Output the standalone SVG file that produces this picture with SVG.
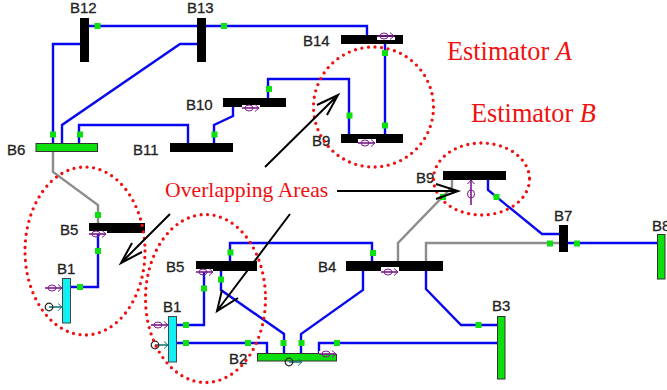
<svg xmlns="http://www.w3.org/2000/svg" width="667" height="390" viewBox="0 0 667 390">
<style>
.bl{fill:none;stroke:#0808f0;stroke-width:2.4}
.gr{fill:none;stroke:#8c8c8c;stroke-width:2.4}
.bar{fill:#000}
.gbar{fill:#0de00d;stroke:#333;stroke-width:1}
.cbar{fill:#0ff0f5;stroke:#444;stroke-width:1}
.lb{font:15px "Liberation Sans",Arial,sans-serif;fill:#222;stroke:#222;stroke-width:.3}
.est{font:26.300px "Liberation Serif","Times New Roman",serif;fill:#f01010}
.ov{font:21.700px "Liberation Serif","Times New Roman",serif;fill:#f01010}
.dot{fill:none;stroke:#f01010;stroke-width:3.300;stroke-linecap:round;stroke-dasharray:0 6.6}
.ar{fill:none;stroke:#000;stroke-width:2}
.j{fill:#0de00d}
.pp{fill:none;stroke:#7a1a8a;stroke-width:1}
.pl{fill:none;stroke:#7a1a8a;stroke-width:1.6}
.tt{fill:none;stroke:#1a7a7a;stroke-width:1}
.tl{fill:none;stroke:#1a7a7a;stroke-width:1.6}
.pad{fill:#fff}
</style>
<defs>
<g id="p"><path class="pl" d="M0 0H17"/><path class="pp" d="M13 -3.500L17 0L13 3.500"/><ellipse class="pp" cx="7" cy="0" rx="4" ry="3"/></g>
<g id="t"><path class="tl" d="M4 0H17"/><path class="tt" d="M13 -3.500L17 0L13 3.500"/><circle cx="4" cy="0" r="3.800" fill="none" stroke="#222" stroke-width="1.200"/></g>
<rect id="m" x="-3" y="-3" width="6" height="6" class="j"/>
</defs>
<g id="connectors">
<path class="bl" d="M89 26H197M206 26H367V36"/>
<path class="bl" d="M80 44H53V143"/>
<path class="bl" d="M197 44H180L62 125V143"/>
<path class="bl" d="M79 143V125H188V143"/>
<path class="bl" d="M214 143V125L233 116V107"/>
<path class="bl" d="M268 98V79H349V134"/>
<path class="bl" d="M385 44V134"/>
<path class="gr" d="M53 151V172L98 205V224"/>
<path class="bl" d="M98 233V287H71"/>
<path class="bl" d="M204 271V325H177"/>
<path class="bl" d="M177 343H267V353"/>
<path class="bl" d="M230 261V243H372V261"/>
<path class="bl" d="M221 271V290L284 334V353"/>
<path class="bl" d="M301 353V334L363 290V271"/>
<path class="bl" d="M319 353V343H497"/>
<path class="bl" d="M426 271V289L461 325H497"/>
<path class="gr" d="M398 261V243L452 187V180"/>
<path class="bl" d="M488 180V190L542 234H559"/>
<path class="gr" d="M426 261V243H559"/>
<path class="bl" d="M568 243H657"/>
<use href="#m" x="97.500" y="26"/><use href="#m" x="224" y="26"/>
<use href="#m" x="53" y="134.500"/><use href="#m" x="80" y="134.500"/><use href="#m" x="214.500" y="134.500"/>
<use href="#m" x="269" y="89"/><use href="#m" x="349.500" y="115.500"/><use href="#m" x="385" y="125.500"/><use href="#m" x="385" y="53"/>
<use href="#m" x="98" y="215"/><use href="#m" x="98" y="251"/><use href="#m" x="80" y="287"/>
<use href="#m" x="204" y="288.500"/><use href="#m" x="221" y="279.500"/><use href="#m" x="230.500" y="252.500"/><use href="#m" x="373" y="253"/>
<use href="#m" x="186" y="325"/><use href="#m" x="186" y="343"/><use href="#m" x="248" y="343"/><use href="#m" x="283.500" y="343"/><use href="#m" x="301.500" y="343"/><use href="#m" x="337" y="343"/>
<use href="#m" x="478.500" y="325"/><use href="#m" x="443" y="197"/><use href="#m" x="496.500" y="197"/><use href="#m" x="550" y="243.500"/><use href="#m" x="577" y="243.500"/>
</g>
<g id="B12"><rect class="bar" x="80" y="18" width="9" height="44"/><text class="lb" x="70" y="13">B12</text></g>
<g id="B13"><rect class="bar" x="197" y="18" width="9" height="44"/><text class="lb" x="187" y="13">B13</text></g>
<g id="B14"><rect class="bar" x="341" y="35" width="62" height="9"/><rect class="pad" x="377" y="37" width="18" height="3"/><use href="#p" x="377" y="36"/><text class="lb" x="303" y="46">B14</text></g>
<g id="B10"><rect class="bar" x="223" y="98" width="63" height="9"/><rect class="pad" x="242" y="105" width="18" height="4"/><use href="#p" x="242" y="108"/><text class="lb" x="186" y="110">B10</text></g>
<g id="B11"><rect class="bar" x="170" y="143" width="63" height="9"/><text class="lb" x="133" y="155">B11</text></g>
<g id="B6"><rect class="gbar" x="36" y="143.500" width="61.500" height="8"/><text class="lb" x="7" y="155">B6</text></g>
<g id="B9a"><rect class="bar" x="341" y="134" width="62" height="9"/><rect class="pad" x="358" y="139" width="18" height="4"/><use href="#p" x="358" y="143"/><text class="lb" x="312" y="146">B9</text></g>
<g id="B5a"><rect class="bar" x="89" y="223" width="56" height="10"/><rect class="pad" x="89" y="231" width="18" height="3"/><use href="#p" x="89" y="234"/><text class="lb" x="60" y="235">B5</text></g>
<g id="B1a"><rect class="cbar" x="62.500" y="278.500" width="8" height="44.500"/><use href="#p" x="45" y="288"/><use href="#t" x="45" y="307"/><text class="lb" x="57" y="274">B1</text></g>
<g id="B5b"><rect class="bar" x="196" y="261" width="61" height="10"/><rect class="pad" x="196" y="269" width="17" height="3"/><use href="#p" x="196" y="272"/><text class="lb" x="166" y="272">B5</text></g>
<g id="B1b"><rect class="cbar" x="168.500" y="316.500" width="8" height="45.500"/><use href="#p" x="151" y="325"/><use href="#t" x="151" y="345"/><text class="lb" x="163" y="312">B1</text></g>
<g id="B2"><rect class="gbar" x="257.500" y="353.500" width="79" height="7.500"/><use href="#t" x="285" y="362"/><rect class="pad" x="319" y="351" width="18" height="3"/><use href="#p" x="319" y="354"/><text class="lb" x="229" y="364">B2</text></g>
<g id="B4"><rect class="bar" x="346" y="261" width="97" height="10"/><rect class="pad" x="381" y="267" width="18" height="8"/><use href="#p" x="381" y="272"/><text class="lb" x="318" y="272">B4</text></g>
<g id="B3"><rect class="gbar" x="497.500" y="316.500" width="7.500" height="62.500"/><text class="lb" x="492" y="311">B3</text></g>
<g id="B9b"><rect class="bar" x="443" y="171" width="63" height="9"/><path class="pl" d="M471 180V205"/><path class="pp" d="M467.500 184L471 180L474.500 184"/><ellipse class="pp" cx="471" cy="194" rx="3.500" ry="4"/><text class="lb" x="416" y="183">B9</text></g>
<g id="B7"><rect class="bar" x="559" y="225" width="9" height="27"/><text class="lb" x="554" y="221">B7</text></g>
<g id="B8"><rect class="gbar" x="657.500" y="234.500" width="7.500" height="44.500"/><text class="lb" x="652" y="231">B8</text></g>
<g id="regions">
<ellipse class="dot" cx="373.500" cy="107" rx="60" ry="60"/>
<ellipse class="dot" cx="85" cy="251" rx="60" ry="84"/>
<ellipse class="dot" cx="205.500" cy="298.500" rx="60" ry="84"/>
<ellipse class="dot" cx="481.500" cy="179" rx="48" ry="36"/>
</g>
<g id="callouts">
<path class="ar" d="M265 167L338 95M317 105L338 95L327 115"/>
<path class="ar" d="M337 191H458M436 184L458 191L436 199"/>
<path class="ar" d="M170 214L121 263M132 243L121 263L142 252"/>
<path class="ar" d="M290 214L217 311M222 290L217 311L238 298"/>
<text class="est" x="447" y="60">Estimator <tspan font-style="italic">A</tspan></text>
<text class="est" x="471" y="122">Estimator <tspan font-style="italic">B</tspan></text>
<text class="ov" x="165" y="197">Overlapping Areas</text>
</g>
</svg>
